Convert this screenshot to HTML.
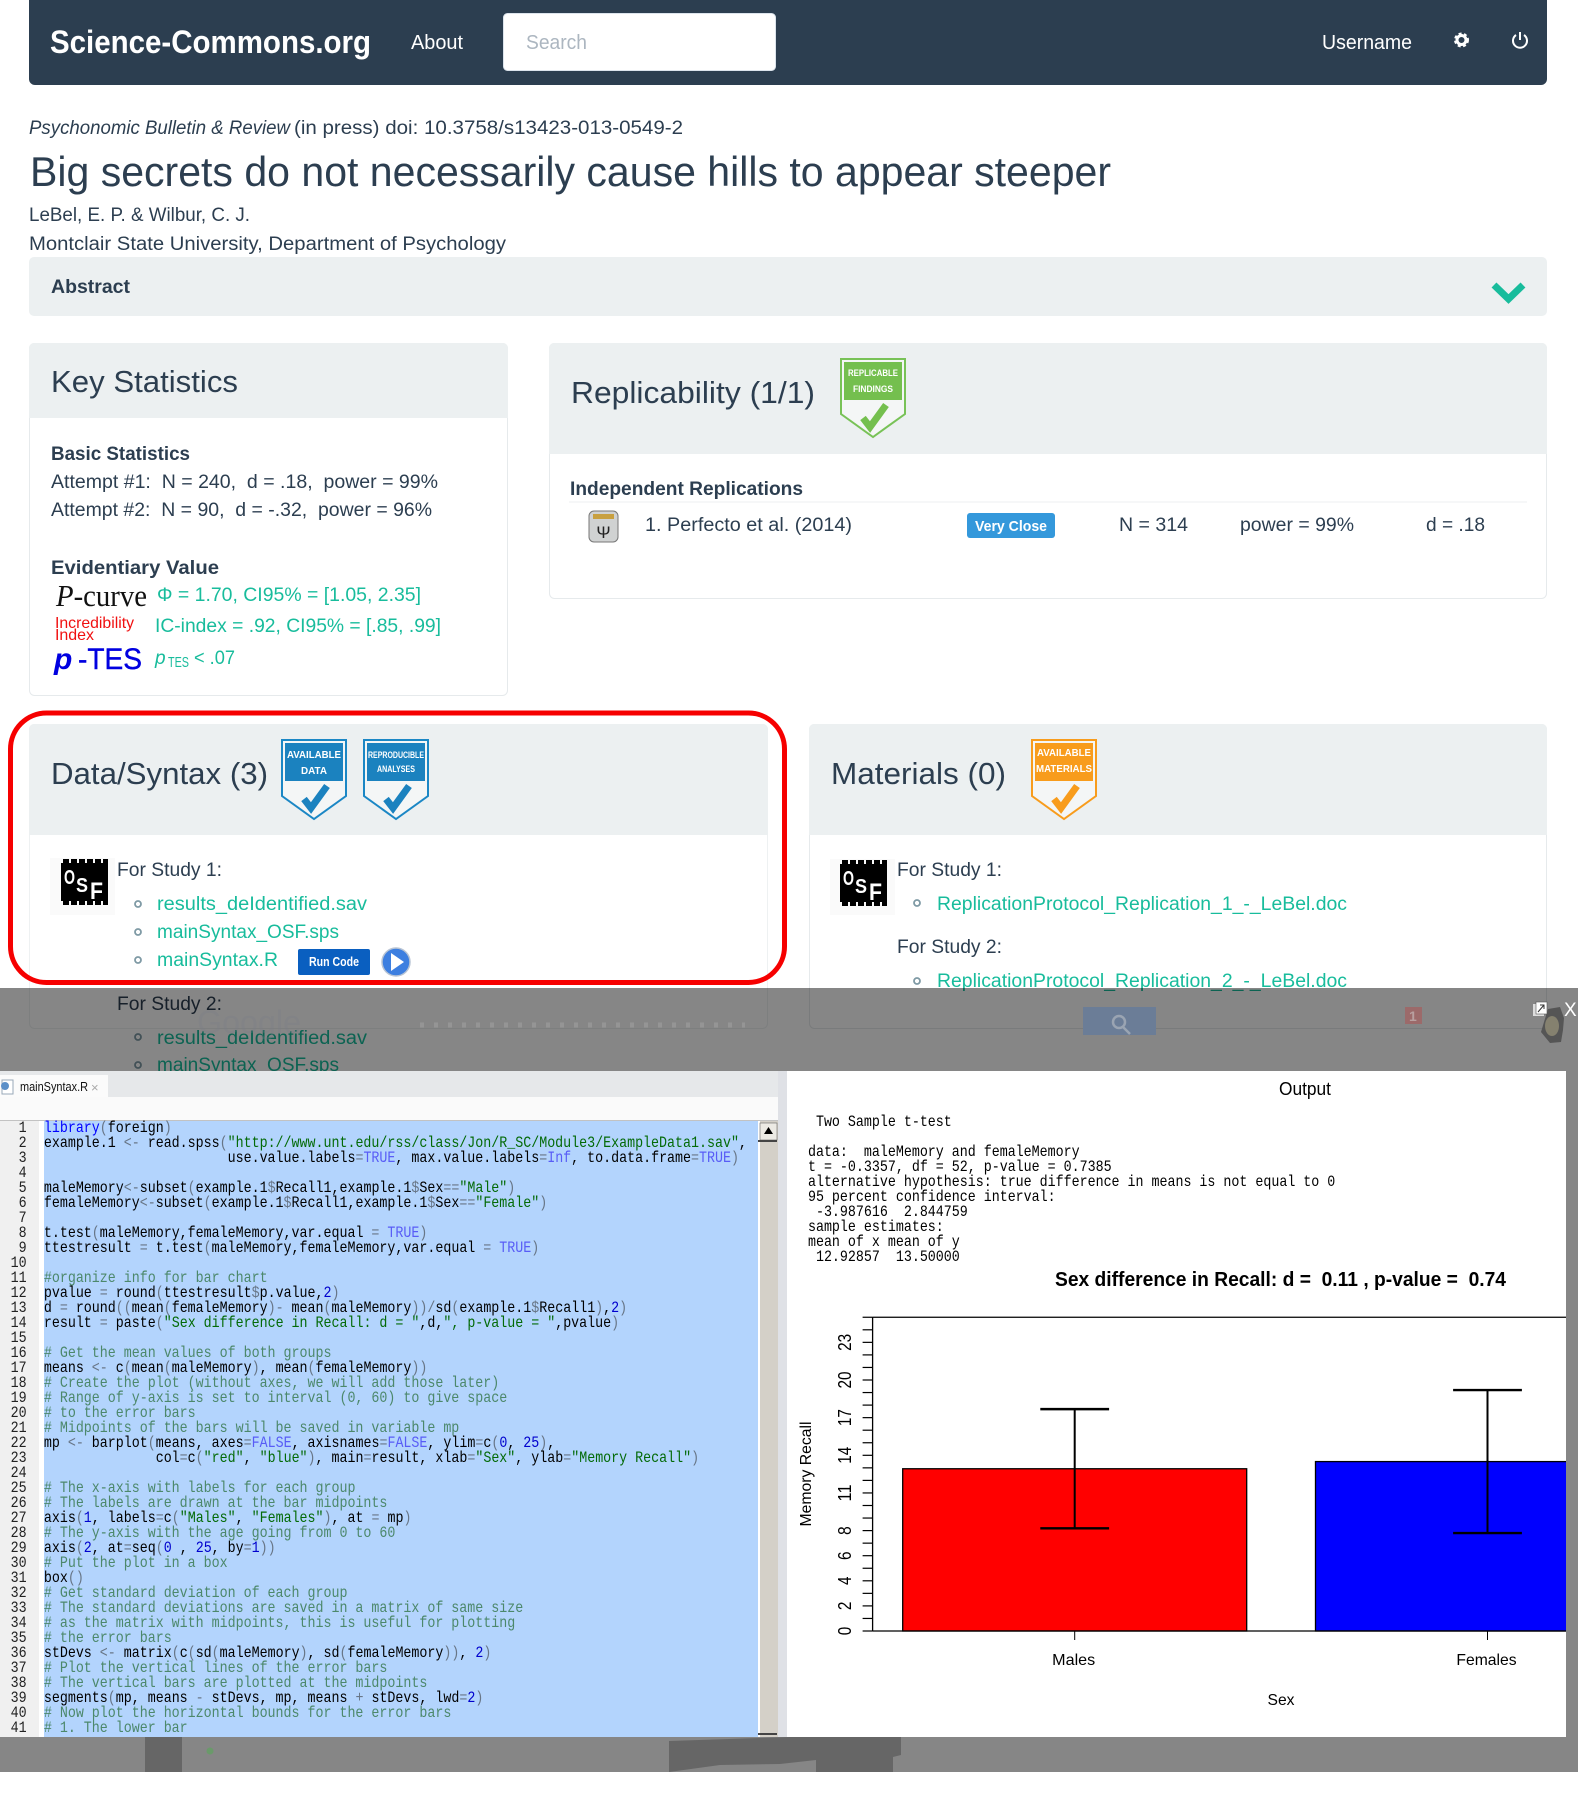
<!DOCTYPE html>
<html lang="en">
<head>
<meta charset="utf-8">
<title>Science-Commons.org</title>
<style>
html,body{margin:0;padding:0;background:#fff;width:1578px;height:1800px;overflow:hidden}
svg{display:block}
text{font-family:"Liberation Sans",sans-serif;fill:#2c3e50}
.t{font-size:19px}
.h{font-size:31px}
.g{fill:#18bc9c;font-size:19px}
.b{font-weight:bold}
.m text,.m{font-family:"Liberation Mono",monospace;font-size:15.5px;fill:#000;white-space:pre}
.ln text{text-anchor:end;fill:#222}
tspan.o{fill:#687687}
tspan.s{fill:#036a07}
tspan.k{fill:#585cf6}
tspan.n{fill:#0000cd}
tspan.l{fill:#0000ff}
text.c{fill:#4c886b}
.bd{font-size:10px;font-weight:bold;fill:#fff;text-anchor:middle}
.ax{font-size:16px;fill:#000}
</style>
</head>
<body>
<svg xmlns="http://www.w3.org/2000/svg" width="1578" height="1800" viewBox="0 0 1578 1800">
<rect x="0" y="0" width="1578" height="1800" fill="#fff"/>

<!-- navbar -->
<g>
<path d="M29 0H1547V79a6 6 0 0 1-6 6H35a6 6 0 0 1-6-6Z" fill="#2c3e50"/>
<text x="50" y="53" font-size="32" font-weight="bold" style="fill:#fff" textLength="321" lengthAdjust="spacingAndGlyphs">Science-Commons.org</text>
<text x="411" y="49" font-size="20" style="fill:#fff" textLength="52" lengthAdjust="spacingAndGlyphs">About</text>
<rect x="503.500" y="13.500" width="272" height="57" rx="4" fill="#fff" stroke="#dce4ec"/>
<text x="526" y="49" font-size="20" style="fill:#acb6c0" textLength="61" lengthAdjust="spacingAndGlyphs">Search</text>
<text x="1322" y="49" font-size="20" style="fill:#fff" textLength="90" lengthAdjust="spacingAndGlyphs">Username</text>
<g>
<circle cx="1461.500" cy="40" r="4.500" fill="none" stroke="#fff" stroke-width="3" />
<circle cx="1461.500" cy="40" r="6.500" fill="none" stroke="#fff" stroke-width="2" stroke-dasharray="3 2.500"/>
</g>
<g fill="none" stroke="#fff" stroke-width="2">
<path d="M1516 35a7 7 0 1 0 8 0"/><path d="M1520 32v8"/>
</g>
</g>

<!-- article head -->
<text x="29" y="134" class="t" font-style="italic" textLength="261" lengthAdjust="spacingAndGlyphs">Psychonomic Bulletin &amp; Review</text>
<text x="294" y="134" class="t" textLength="389" lengthAdjust="spacingAndGlyphs">(in press) doi: 10.3758/s13423-013-0549-2</text>
<text x="30" y="186" font-size="42" textLength="1081" lengthAdjust="spacingAndGlyphs">Big secrets do not necessarily cause hills to appear steeper</text>
<text x="29" y="221" class="t" textLength="221" lengthAdjust="spacingAndGlyphs">LeBel, E. P. &amp; Wilbur, C. J.</text>
<text x="29" y="250" class="t" textLength="477" lengthAdjust="spacingAndGlyphs">Montclair State University, Department of Psychology</text>

<g>
<rect x="29" y="257" width="1518" height="59" rx="5" fill="#ecf0f1"/>
<text x="51" y="293" class="t b" textLength="79" lengthAdjust="spacingAndGlyphs">Abstract</text>
<polyline points="1494,285 1508.500,299 1523,285" fill="none" stroke="#18bc9c" stroke-width="7"/>
</g>

<!-- key statistics -->
<g>
<rect x="29.500" y="343.500" width="478" height="352" rx="5" fill="#fff" stroke="#e6eaec"/>
<path d="M29 418V348a5 5 0 0 1 5-5H503a5 5 0 0 1 5 5V418Z" fill="#ecf0f1"/>
<text x="51" y="392" class="h" textLength="187" lengthAdjust="spacingAndGlyphs">Key Statistics</text>
<text x="51" y="460" class="t b" textLength="139" lengthAdjust="spacingAndGlyphs">Basic Statistics</text>
<text x="51" y="488" class="t" textLength="387" lengthAdjust="spacingAndGlyphs" xml:space="preserve">Attempt #1:  N = 240,  d = .18,  power = 99%</text>
<text x="51" y="516" class="t" textLength="381" lengthAdjust="spacingAndGlyphs" xml:space="preserve">Attempt #2:  N = 90,  d = -.32,  power = 96%</text>
<text x="51" y="574" class="t b" textLength="168" lengthAdjust="spacingAndGlyphs">Evidentiary Value</text>
<text x="56" y="606" font-size="31" style="font-family:'Liberation Serif',serif;fill:#111" textLength="91" lengthAdjust="spacingAndGlyphs"><tspan font-style="italic">P</tspan>-curve</text>
<text x="157" y="601" class="g" textLength="264" lengthAdjust="spacingAndGlyphs">Φ = 1.70, CI95% = [1.05, 2.35]</text>
<text x="55" y="628" font-size="16" style="fill:#f01010" textLength="79" lengthAdjust="spacingAndGlyphs">Incredibility</text>
<text x="55" y="640" font-size="16" style="fill:#f01010" textLength="39" lengthAdjust="spacingAndGlyphs">Index</text>
<text x="155" y="632" class="g" textLength="286" lengthAdjust="spacingAndGlyphs">IC-index = .92, CI95% = [.85, .99]</text>
<text x="54" y="669" font-size="30" font-weight="bold" font-style="italic" style="fill:#0000e0">p</text>
<text x="78" y="669" font-size="30" style="fill:#0000e0;stroke:#0000e0;stroke-width:.4" textLength="64" lengthAdjust="spacingAndGlyphs">-TES</text>
<text x="155" y="664" class="g" font-style="italic">p</text>
<text x="168" y="667" class="g" style="font-size:15px" textLength="21" lengthAdjust="spacingAndGlyphs">TES</text>
<text x="194" y="664" class="g" textLength="41" lengthAdjust="spacingAndGlyphs">&lt; .07</text>
</g>

<!-- replicability -->
<g>
<rect x="549.500" y="343.500" width="997" height="255" rx="5" fill="#fff" stroke="#e6eaec"/>
<path d="M549 454V348a5 5 0 0 1 5-5H1542a5 5 0 0 1 5 5V454Z" fill="#ecf0f1"/>
<text x="571" y="403" class="h" textLength="244" lengthAdjust="spacingAndGlyphs">Replicability (1/1)</text>
<g transform="translate(840,358)">
<path d="M1 1H65V56L33 79L1 56Z" fill="#f4f6f6" stroke="#78c257" stroke-width="2"/>
<rect x="4" y="4" width="58" height="38" fill="#74bf4e"/>
<text x="33" y="18" class="bd" style="font-size:9px" textLength="50" lengthAdjust="spacingAndGlyphs">REPLICABLE</text>
<text x="33" y="34" class="bd" style="font-size:9px" textLength="40" lengthAdjust="spacingAndGlyphs">FINDINGS</text>
<polyline points="23,60 30,69 46,47" fill="none" stroke="#74bf4e" stroke-width="7"/>
</g>
<text x="570" y="495" class="t b" textLength="233" lengthAdjust="spacingAndGlyphs">Independent Replications</text>
<line x1="569" y1="502" x2="1527" y2="502" stroke="#eceff0"/>
<g>
<rect x="589" y="511" width="29" height="31" rx="5" fill="#d0d2d2" stroke="#777"/>
<rect x="593" y="514" width="21" height="5" fill="#c8a040"/>
<text x="603.500" y="538" font-size="17" style="fill:#222" text-anchor="middle">Ψ</text>
</g>
<text x="645" y="531" class="t" textLength="207" lengthAdjust="spacingAndGlyphs">1. Perfecto et al. (2014)</text>
<rect x="967" y="513" width="88" height="25" rx="3" fill="#3498db"/>
<text x="975" y="531" font-size="15" font-weight="bold" style="fill:#fff" textLength="72" lengthAdjust="spacingAndGlyphs">Very Close</text>
<text x="1119" y="531" class="t" textLength="69" lengthAdjust="spacingAndGlyphs">N = 314</text>
<text x="1240" y="531" class="t" textLength="114" lengthAdjust="spacingAndGlyphs">power = 99%</text>
<text x="1426" y="531" class="t" textLength="59" lengthAdjust="spacingAndGlyphs">d = .18</text>
</g>

<!-- data syntax -->
<g>
<rect x="29.500" y="724.500" width="738" height="304" rx="5" fill="#fff" stroke="#eef1f2"/>
<path d="M29 835V729a5 5 0 0 1 5-5H763a5 5 0 0 1 5 5V835Z" fill="#ecf0f1"/>
<text x="51" y="784" class="h" textLength="217" lengthAdjust="spacingAndGlyphs">Data/Syntax (3)</text>
<g transform="translate(281,739)">
<path d="M1 1H65V57L33 80L1 57Z" fill="#f4f6f6" stroke="#1b87c5" stroke-width="2"/>
<rect x="4" y="4" width="58" height="38" fill="#1b82bf"/>
<text x="33" y="19" class="bd" textLength="54" lengthAdjust="spacingAndGlyphs">AVAILABLE</text>
<text x="33" y="35" class="bd" textLength="26" lengthAdjust="spacingAndGlyphs">DATA</text>
<polyline points="23,60 30,69 46,47" fill="none" stroke="#1b82bf" stroke-width="7"/>
</g>
<g transform="translate(363,739)">
<path d="M1 1H65V57L33 80L1 57Z" fill="#f4f6f6" stroke="#1b87c5" stroke-width="2"/>
<rect x="4" y="4" width="58" height="38" fill="#1b82bf"/>
<text x="33" y="19" class="bd" style="font-size:9px" textLength="56" lengthAdjust="spacingAndGlyphs">REPRODUCIBLE</text>
<text x="33" y="33" class="bd" style="font-size:9px" textLength="38" lengthAdjust="spacingAndGlyphs">ANALYSES</text>
<polyline points="23,60 30,69 46,47" fill="none" stroke="#1b82bf" stroke-width="7"/>
</g>
<g>
<rect x="50" y="858" width="65" height="57" fill="#fafafa"/>
<rect x="61" y="859" width="47" height="46" fill="#000"/>
<line x1="61" y1="861" x2="108" y2="861" stroke="#fafafa" stroke-width="4" stroke-dasharray="2 6"/>
<line x1="61" y1="903" x2="108" y2="903" stroke="#fafafa" stroke-width="4" stroke-dasharray="2 6"/>
<text x="64" y="884" font-size="20" font-weight="bold" style="fill:#fff" textLength="11" lengthAdjust="spacingAndGlyphs">O</text>
<text x="76" y="892" font-size="20" font-weight="bold" style="fill:#fff" textLength="12" lengthAdjust="spacingAndGlyphs">S</text>
<text x="90" y="899" font-size="24" font-weight="bold" style="fill:#fff" textLength="13" lengthAdjust="spacingAndGlyphs">F</text>
</g>
<text x="117" y="876" class="t" textLength="105" lengthAdjust="spacingAndGlyphs">For Study 1:</text>
<circle cx="138" cy="904" r="3" fill="none" stroke="#7f9aa5" stroke-width="1.800"/>
<text x="157" y="910" class="g" textLength="210" lengthAdjust="spacingAndGlyphs">results_deIdentified.sav</text>
<circle cx="138" cy="932" r="3" fill="none" stroke="#7f9aa5" stroke-width="1.800"/>
<text x="157" y="938" class="g" textLength="182" lengthAdjust="spacingAndGlyphs">mainSyntax_OSF.sps</text>
<circle cx="138" cy="960" r="3" fill="none" stroke="#7f9aa5" stroke-width="1.800"/>
<text x="157" y="966" class="g" textLength="121" lengthAdjust="spacingAndGlyphs">mainSyntax.R</text>
<rect x="298" y="949" width="72" height="26" rx="2" fill="#0a5fc0"/>
<text x="309" y="966" font-size="13" font-weight="bold" style="fill:#fff" textLength="50" lengthAdjust="spacingAndGlyphs">Run Code</text>
<g>
<circle cx="396" cy="962" r="14" fill="#3d7fe0" stroke="#b8c4d4" stroke-width="1.500"/>
<path d="M391 953L404 962L391 971Z" fill="#fff"/>
</g>
<text x="117" y="1010" class="t" textLength="105" lengthAdjust="spacingAndGlyphs">For Study 2:</text>
<circle cx="138" cy="1037" r="3" fill="none" stroke="#7f9aa5" stroke-width="1.800"/>
<text x="157" y="1044" class="g" textLength="210" lengthAdjust="spacingAndGlyphs">results_deIdentified.sav</text>
<circle cx="138" cy="1065" r="3" fill="none" stroke="#7f9aa5" stroke-width="1.800"/>
<text x="157" y="1071" class="g" textLength="182" lengthAdjust="spacingAndGlyphs">mainSyntax_OSF.sps</text>
</g>

<rect x="10.500" y="713" width="774" height="269.500" rx="36" fill="none" stroke="#f60000" stroke-width="5"/>

<!-- materials -->
<g>
<rect x="809.500" y="724.500" width="737" height="304" rx="5" fill="#fff" stroke="#e6eaec"/>
<path d="M809 835V729a5 5 0 0 1 5-5H1542a5 5 0 0 1 5 5V835Z" fill="#ecf0f1"/>
<text x="831" y="784" class="h" textLength="175" lengthAdjust="spacingAndGlyphs">Materials (0)</text>
<g transform="translate(1031,739)">
<path d="M1 1H65V57L33 80L1 57Z" fill="#f4f6f6" stroke="#f89c1c" stroke-width="2"/>
<rect x="4" y="4" width="58" height="38" fill="#f89c1c"/>
<text x="33" y="17" class="bd" textLength="54" lengthAdjust="spacingAndGlyphs">AVAILABLE</text>
<text x="33" y="33" class="bd" textLength="56" lengthAdjust="spacingAndGlyphs">MATERIALS</text>
<polyline points="23,60 30,69 46,47" fill="none" stroke="#f89c1c" stroke-width="7"/>
</g>
<g>
<rect x="830" y="859" width="65" height="56" fill="#fafafa"/>
<rect x="840" y="860" width="47" height="46" fill="#000"/>
<line x1="840" y1="862" x2="887" y2="862" stroke="#fafafa" stroke-width="4" stroke-dasharray="2 6"/>
<line x1="840" y1="904" x2="887" y2="904" stroke="#fafafa" stroke-width="4" stroke-dasharray="2 6"/>
<text x="843" y="885" font-size="20" font-weight="bold" style="fill:#fff" textLength="11" lengthAdjust="spacingAndGlyphs">O</text>
<text x="855" y="893" font-size="20" font-weight="bold" style="fill:#fff" textLength="12" lengthAdjust="spacingAndGlyphs">S</text>
<text x="869" y="900" font-size="24" font-weight="bold" style="fill:#fff" textLength="13" lengthAdjust="spacingAndGlyphs">F</text>
</g>
<text x="897" y="876" class="t" textLength="105" lengthAdjust="spacingAndGlyphs">For Study 1:</text>
<circle cx="917" cy="903" r="3" fill="none" stroke="#7f9aa5" stroke-width="1.800"/>
<text x="937" y="910" class="g" textLength="410" lengthAdjust="spacingAndGlyphs">ReplicationProtocol_Replication_1_-_LeBel.doc</text>
<text x="897" y="953" class="t" textLength="105" lengthAdjust="spacingAndGlyphs">For Study 2:</text>
<circle cx="917" cy="981" r="3" fill="none" stroke="#7f9aa5" stroke-width="1.800"/>
<text x="937" y="987" class="g" textLength="410" lengthAdjust="spacingAndGlyphs">ReplicationProtocol_Replication_2_-_LeBel.doc</text>
</g>

<!-- overlay -->
<rect x="0" y="988" width="1578" height="784" fill="#000" fill-opacity=".475"/>
<text x="197" y="1033" font-size="32" style="fill:#7a7f88;fill-opacity:.3" textLength="104" lengthAdjust="spacingAndGlyphs">Google</text>
<line x1="420" y1="1025" x2="745" y2="1025" stroke="#a8a8a8" stroke-opacity=".45" stroke-width="5" stroke-dasharray="4 10"/>
<g>
<rect x="1083" y="1007" width="73" height="28" fill="#6b7d97"/>
<circle cx="1119" cy="1022" r="6" fill="none" stroke="#9aa4b2" stroke-width="2.500"/>
<line x1="1123" y1="1027" x2="1130" y2="1034" stroke="#9aa4b2" stroke-width="2.500"/>
</g>
<rect x="1405" y="1007" width="17" height="17" fill="#9c6a6a"/>
<text x="1409" y="1021" font-size="14" font-weight="bold" style="fill:#b8a0a0">1</text>
<g>
<path d="M1548 1009L1560 1007L1564 1018L1563 1030L1561 1042L1550 1043L1541 1032L1544 1022Z" fill="#555"/>
<ellipse cx="1552" cy="1026" rx="7" ry="10" fill="#85816f"/>
</g>
<g>
<rect x="1533" y="1004" width="11" height="12" fill="#ddd"/>
<rect x="1536" y="1002" width="11" height="12" fill="#fff" stroke="#555" stroke-width=".6"/>
<path d="M1538 1012l6-7m-4 0h4v4" stroke="#333" stroke-width="1" fill="none"/>
</g>
<text x="1564" y="1016" font-size="19" style="fill:#fff">X</text>
<path d="M145 1737H182V1772H145ZM669 1741L790 1737H901V1755L893 1757V1772H816V1760L780 1764L720 1765L669 1772Z" fill="#666"/>
<circle cx="210" cy="1751" r="3.500" fill="#6a9a6a"/>

<!-- editor -->
<g>
<rect x="0" y="1071" width="778" height="666" fill="#fff"/>
<rect x="0" y="1071" width="778" height="26" fill="#e6e8ea"/>
<rect x="0" y="1075" width="108" height="22" fill="#fbfbfb"/>
<rect x="2" y="1080" width="11" height="14" fill="#fff" stroke="#9aa8b8"/>
<circle cx="5" cy="1086" r="4" fill="#5b8fc8"/>
<text x="20" y="1091" font-size="13" style="fill:#111" textLength="68" lengthAdjust="spacingAndGlyphs">mainSyntax.R</text>
<text x="91" y="1092" font-size="13" style="fill:#aaa">×</text>
<rect x="0" y="1097" width="778" height="23" fill="#fafafa"/>
<line x1="0" y1="1120.500" x2="778" y2="1120.500" stroke="#c2c2c2"/>
<rect x="0" y="1121" width="39" height="616" fill="#f0f0f0"/>
<rect x="44" y="1121" width="714" height="616" fill="#b3d4fd"/>
<rect x="758" y="1121" width="20" height="616" fill="#d4d0c8"/>
<rect x="758" y="1121" width="2" height="616" fill="#fff"/>
<rect x="760" y="1123" width="17" height="17" fill="#eceae4" stroke="#666" stroke-width=".6"/>
<path d="M764 1134L768.500 1127L773 1134Z" fill="#000"/>
<rect x="758" y="1140" width="19" height="2" fill="#444"/>
<rect x="758" y="1733" width="19" height="2" fill="#444"/>

<g class="m ln" transform="translate(0,-1) scale(.86,1)">
<text x="31" y="1133">1</text><text x="31" y="1148">2</text><text x="31" y="1163">3</text><text x="31" y="1178">4</text><text x="31" y="1193">5</text><text x="31" y="1208">6</text><text x="31" y="1223">7</text><text x="31" y="1238">8</text><text x="31" y="1253">9</text><text x="31" y="1268">10</text><text x="31" y="1283">11</text><text x="31" y="1298">12</text><text x="31" y="1313">13</text><text x="31" y="1328">14</text><text x="31" y="1343">15</text><text x="31" y="1358">16</text><text x="31" y="1373">17</text><text x="31" y="1388">18</text><text x="31" y="1403">19</text><text x="31" y="1418">20</text><text x="31" y="1433">21</text><text x="31" y="1448">22</text><text x="31" y="1463">23</text><text x="31" y="1478">24</text><text x="31" y="1493">25</text><text x="31" y="1508">26</text><text x="31" y="1523">27</text><text x="31" y="1538">28</text><text x="31" y="1553">29</text><text x="31" y="1568">30</text><text x="31" y="1583">31</text><text x="31" y="1598">32</text><text x="31" y="1613">33</text><text x="31" y="1628">34</text><text x="31" y="1643">35</text><text x="31" y="1658">36</text><text x="31" y="1673">37</text><text x="31" y="1688">38</text><text x="31" y="1703">39</text><text x="31" y="1718">40</text><text x="31" y="1733">41</text>
</g>
<g class="m" transform="translate(0,-1) scale(.86,1)">
<text x="51" y="1133"><tspan class="l">library</tspan><tspan class="o">(</tspan>foreign<tspan class="o">)</tspan></text>
<text x="51" y="1148">example.1 <tspan class="o">&lt;-</tspan> read.spss<tspan class="o">(</tspan><tspan class="s">"http://www.unt.edu/rss/class/Jon/R_SC/Module3/ExampleData1.sav"</tspan>,</text>
<text x="51" y="1163">                       use.value.labels<tspan class="o">=</tspan><tspan class="k">TRUE</tspan>, max.value.labels<tspan class="o">=</tspan><tspan class="k">Inf</tspan>, to.data.frame<tspan class="o">=</tspan><tspan class="k">TRUE</tspan><tspan class="o">)</tspan></text>
<text x="51" y="1193">maleMemory<tspan class="o">&lt;-</tspan>subset<tspan class="o">(</tspan>example.1<tspan class="o">$</tspan>Recall1,example.1<tspan class="o">$</tspan>Sex<tspan class="o">==</tspan><tspan class="s">"Male"</tspan><tspan class="o">)</tspan></text>
<text x="51" y="1208">femaleMemory<tspan class="o">&lt;-</tspan>subset<tspan class="o">(</tspan>example.1<tspan class="o">$</tspan>Recall1,example.1<tspan class="o">$</tspan>Sex<tspan class="o">==</tspan><tspan class="s">"Female"</tspan><tspan class="o">)</tspan></text>
<text x="51" y="1238">t.test<tspan class="o">(</tspan>maleMemory,femaleMemory,var.equal <tspan class="o">=</tspan> <tspan class="k">TRUE</tspan><tspan class="o">)</tspan></text>
<text x="51" y="1253">ttestresult <tspan class="o">=</tspan> t.test<tspan class="o">(</tspan>maleMemory,femaleMemory,var.equal <tspan class="o">=</tspan> <tspan class="k">TRUE</tspan><tspan class="o">)</tspan></text>
<text x="51" y="1283" class="c">#organize info for bar chart</text>
<text x="51" y="1298">pvalue <tspan class="o">=</tspan> round<tspan class="o">(</tspan>ttestresult<tspan class="o">$</tspan>p.value,<tspan class="n">2</tspan><tspan class="o">)</tspan></text>
<text x="51" y="1313">d <tspan class="o">=</tspan> round<tspan class="o">((</tspan>mean<tspan class="o">(</tspan>femaleMemory<tspan class="o">)-</tspan> mean<tspan class="o">(</tspan>maleMemory<tspan class="o">))/</tspan>sd<tspan class="o">(</tspan>example.1<tspan class="o">$</tspan>Recall1<tspan class="o">)</tspan>,<tspan class="n">2</tspan><tspan class="o">)</tspan></text>
<text x="51" y="1328">result <tspan class="o">=</tspan> paste<tspan class="o">(</tspan><tspan class="s">"Sex difference in Recall: d = "</tspan>,d,<tspan class="s">", p-value = "</tspan>,pvalue<tspan class="o">)</tspan></text>
<text x="51" y="1358" class="c"># Get the mean values of both groups</text>
<text x="51" y="1373">means <tspan class="o">&lt;-</tspan> c<tspan class="o">(</tspan>mean<tspan class="o">(</tspan>maleMemory<tspan class="o">)</tspan>, mean<tspan class="o">(</tspan>femaleMemory<tspan class="o">))</tspan></text>
<text x="51" y="1388" class="c"># Create the plot (without axes, we will add those later)</text>
<text x="51" y="1403" class="c"># Range of y-axis is set to interval (0, 60) to give space</text>
<text x="51" y="1418" class="c"># to the error bars</text>
<text x="51" y="1433" class="c"># Midpoints of the bars will be saved in variable mp</text>
<text x="51" y="1448">mp <tspan class="o">&lt;-</tspan> barplot<tspan class="o">(</tspan>means, axes<tspan class="o">=</tspan><tspan class="k">FALSE</tspan>, axisnames<tspan class="o">=</tspan><tspan class="k">FALSE</tspan>, ylim<tspan class="o">=</tspan>c<tspan class="o">(</tspan><tspan class="n">0</tspan>, <tspan class="n">25</tspan><tspan class="o">)</tspan>,</text>
<text x="51" y="1463">              col<tspan class="o">=</tspan>c<tspan class="o">(</tspan><tspan class="s">"red"</tspan>, <tspan class="s">"blue"</tspan><tspan class="o">)</tspan>, main<tspan class="o">=</tspan>result, xlab<tspan class="o">=</tspan><tspan class="s">"Sex"</tspan>, ylab<tspan class="o">=</tspan><tspan class="s">"Memory Recall"</tspan><tspan class="o">)</tspan></text>
<text x="51" y="1493" class="c"># The x-axis with labels for each group</text>
<text x="51" y="1508" class="c"># The labels are drawn at the bar midpoints</text>
<text x="51" y="1523">axis<tspan class="o">(</tspan><tspan class="n">1</tspan>, labels<tspan class="o">=</tspan>c<tspan class="o">(</tspan><tspan class="s">"Males"</tspan>, <tspan class="s">"Females"</tspan><tspan class="o">)</tspan>, at <tspan class="o">=</tspan> mp<tspan class="o">)</tspan></text>
<text x="51" y="1538" class="c"># The y-axis with the age going from 0 to 60</text>
<text x="51" y="1553">axis<tspan class="o">(</tspan><tspan class="n">2</tspan>, at<tspan class="o">=</tspan>seq<tspan class="o">(</tspan><tspan class="n">0</tspan> , <tspan class="n">25</tspan>, by<tspan class="o">=</tspan><tspan class="n">1</tspan><tspan class="o">))</tspan></text>
<text x="51" y="1568" class="c"># Put the plot in a box</text>
<text x="51" y="1583">box<tspan class="o">()</tspan></text>
<text x="51" y="1598" class="c"># Get standard deviation of each group</text>
<text x="51" y="1613" class="c"># The standard deviations are saved in a matrix of same size</text>
<text x="51" y="1628" class="c"># as the matrix with midpoints, this is useful for plotting</text>
<text x="51" y="1643" class="c"># the error bars</text>
<text x="51" y="1658">stDevs <tspan class="o">&lt;-</tspan> matrix<tspan class="o">(</tspan>c<tspan class="o">(</tspan>sd<tspan class="o">(</tspan>maleMemory<tspan class="o">)</tspan>, sd<tspan class="o">(</tspan>femaleMemory<tspan class="o">))</tspan>, <tspan class="n">2</tspan><tspan class="o">)</tspan></text>
<text x="51" y="1673" class="c"># Plot the vertical lines of the error bars</text>
<text x="51" y="1688" class="c"># The vertical bars are plotted at the midpoints</text>
<text x="51" y="1703">segments<tspan class="o">(</tspan>mp, means <tspan class="o">-</tspan> stDevs, mp, means <tspan class="o">+</tspan> stDevs, lwd<tspan class="o">=</tspan><tspan class="n">2</tspan><tspan class="o">)</tspan></text>
<text x="51" y="1718" class="c"># Now plot the horizontal bounds for the error bars</text>
<text x="51" y="1733" class="c"># 1. The lower bar</text>
</g>
</g>

<!-- output -->
<g>
<rect x="778" y="1071" width="9" height="666" fill="#dfe1e6"/>
<rect x="787" y="1071" width="779" height="666" fill="#fff"/>
<text x="1279" y="1095" font-size="18" style="fill:#000" textLength="52" lengthAdjust="spacingAndGlyphs">Output</text>
<g class="m" transform="scale(.86,1)">
<text x="939.500" y="1126"> Two Sample t-test</text>
<text x="939.500" y="1156">data:  maleMemory and femaleMemory</text>
<text x="939.500" y="1171">t = -0.3357, df = 52, p-value = 0.7385</text>
<text x="939.500" y="1186">alternative hypothesis: true difference in means is not equal to 0</text>
<text x="939.500" y="1201">95 percent confidence interval:</text>
<text x="939.500" y="1216"> -3.987616  2.844759</text>
<text x="939.500" y="1231">sample estimates:</text>
<text x="939.500" y="1246">mean of x mean of y</text>
<text x="939.500" y="1261"> 12.92857  13.50000</text>
</g>
</g>

<!-- bar chart -->
<text x="1055" y="1286" font-size="20" font-weight="bold" style="fill:#000" textLength="451" lengthAdjust="spacingAndGlyphs" xml:space="preserve">Sex difference in Recall: d =  0.11 , p-value =  0.74</text>
<defs><clipPath id="plotClip"><rect x="787" y="1071" width="779" height="666"/></clipPath></defs>
<g id="plot" clip-path="url(#plotClip)"></g>
<text x="806" y="1474" class="ax" transform="rotate(-90 806 1474)" text-anchor="middle" dy="5" textLength="105" lengthAdjust="spacingAndGlyphs">Memory Recall</text>
<text x="1281" y="1705" class="ax" text-anchor="middle" textLength="27" lengthAdjust="spacingAndGlyphs">Sex</text>
</svg>

<script>
const categories = ['Males', 'Females'];
const meanValues = [12.92857, 13.5];
const sdValues = [4.75, 5.7];
const barColors = ['#ff0000', '#0000ff'];
const yTickValues = [0,1,2,3,4,5,6,7,8,9,10,11,12,13,14,15,16,17,18,19,20,21,22,23,24,25];
const yTickLabels = [0,2,4,6,8,11,14,17,20,23];

function yScale(v){ return 1631 - v * 12.55; }
function xScale(u){ return 872.6 + (u - 0.1125) * 344; }

const SVGNS = 'http://www.w3.org/2000/svg';
const plot = document.getElementById('plot');
function make(tag, attrs){
  const el = document.createElementNS(SVGNS, tag);
  for (const k in attrs) el.setAttribute(k, attrs[k]);
  plot.appendChild(el);
  return el;
}

const spacing = 0.2;
const barWidth = 1;

categories.forEach(function(cat, i){
  const left = spacing + i * (barWidth + spacing);
  const mid = left + barWidth / 2;
  const bar = make('rect', {x: xScale(left), y: yScale(meanValues[i]), width: xScale(left + barWidth) - xScale(left), height: yScale(0) - yScale(meanValues[i]), fill: barColors[i], stroke: '#000', 'stroke-width': 1.3});
  
  

  const hi = meanValues[i] + sdValues[i];
  const lo = meanValues[i] - sdValues[i];
  const stem = make('line', {x1: xScale(mid), x2: xScale(mid), y1: yScale(lo), y2: yScale(hi), stroke: '#000', 'stroke-width': 2});
  
  
  const capTop = make('line', {x1: xScale(mid - 0.1), x2: xScale(mid + 0.1), y1: yScale(hi), y2: yScale(hi), stroke: '#000', 'stroke-width': 2.4});
  
  
  const capLow = make('line', {x1: xScale(mid - 0.1), x2: xScale(mid + 0.1), y1: yScale(lo), y2: yScale(lo), stroke: '#000', 'stroke-width': 2.4});
  
  

  const tick = make('line', {x1: xScale(mid), x2: xScale(mid), y1: yScale(0), y2: yScale(0) + 9, stroke: '#000', 'stroke-width': 1});
  
  
  const label = make('text', {x: xScale(mid) - 1, y: 1665, 'text-anchor': 'middle', class: 'ax', textLength: cat.length * 8.6, lengthAdjust: 'spacingAndGlyphs'});
  label.textContent = cat;
  
  
});

const boxTop = make('line', {x1: xScale(0.1125), x2: 1566, y1: yScale(25), y2: yScale(25), stroke: '#000', 'stroke-width': 1.3});


const boxBottom = make('line', {x1: xScale(0.1125), x2: 1566, y1: yScale(0), y2: yScale(0), stroke: '#000', 'stroke-width': 1.3});


const boxLeft = make('line', {x1: xScale(0.1125), x2: xScale(0.1125), y1: yScale(25), y2: yScale(0), stroke: '#000', 'stroke-width': 1.3});



yTickValues.forEach(function(v){
  const t = make('line', {x1: xScale(0.1125) - 10, x2: xScale(0.1125), y1: yScale(v), y2: yScale(v), stroke: '#000', 'stroke-width': 1.2});
  
  
});

yTickLabels.forEach(function(v){
  const yy = yScale(v);
  const lab = make('text', {x: 851, y: yy, 'text-anchor': 'middle', class: 'ax', style: 'font-size:18px', textLength: String(v).length * 8.5, lengthAdjust: 'spacingAndGlyphs', transform: 'rotate(-90 851 ' + yy + ')'});
  lab.textContent = String(v);
  
  
});
</script>
</body>
</html>
